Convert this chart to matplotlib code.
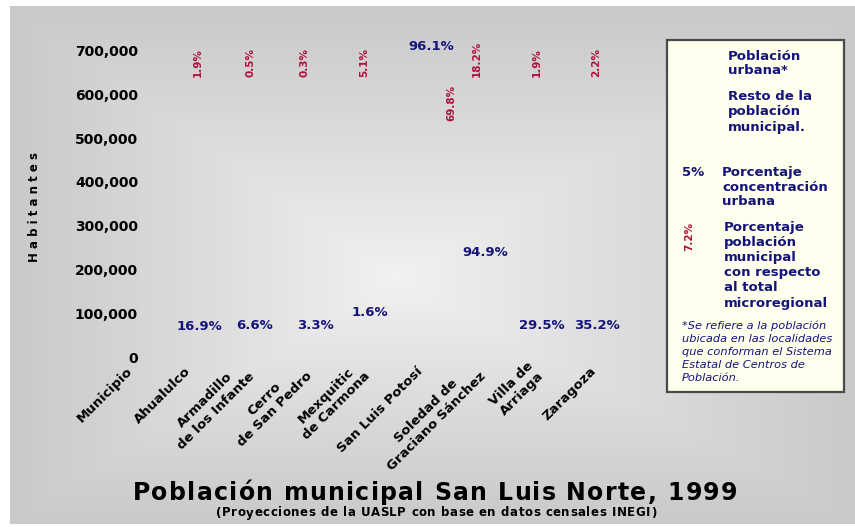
import numpy as np
import matplotlib
matplotlib.use("Agg")
import matplotlib.pyplot as plt
from matplotlib.patches import Rectangle
from matplotlib.ticker import FuncFormatter
from matplotlib.font_manager import FontProperties, findfont
from matplotlib.ft2font import LoadFlags
from matplotlib import font_manager

# --- datos ---
municipios = ["Municipio", "Ahualulco", "Armadillo\nde los Infante", "Cerro\nde San Pedro",
              "Mexquitic\nde Carmona", "San Luis Potosí", "Soledad de\nGraciano Sánchez",
              "Villa de\nArriaga", "Zaragoza"]
# porcentaje de concentración urbana (etiqueta azul) y altura donde aparece (habitantes)
pct_urbana = ["", "16.9%", "6.6%", "3.3%", "1.6%", "96.1%", "94.9%", "29.5%", "35.2%"]
y_urbana = [0, 69500, 74000, 71800, 101400, 707300, 240300, 71800, 71800]
# porcentaje de población municipal respecto al total microregional (etiqueta roja)
pct_municipal = ["", "1.9%", "0.5%", "0.3%", "5.1%", "69.8%", "18.2%", "1.9%", "2.2%"]
y_municipal = [0, 639000, 639000, 639000, 639000, 539400, 639000, 639000, 639000]
yticks = [0, 100000, 200000, 300000, 400000, 500000, 600000, 700000]

# pequeños corrimientos horizontales de las etiquetas (en unidades de categoría)
dx_urbana = [0, 0.19, 0.14, 0.18, 0.13, 0.18, 0.11, 0.10, 0.05]
dx_municipal = [0, 0.16, 0.06, 0.0, 0.02, 0.54, -0.02, 0.01, 0.03]

NAVY = "#14147a"
RED = "#b0103c"
W, H = 855, 527

plt.rcParams["font.family"] = ["DejaVu Sans"]
fig = plt.figure(figsize=(W / 100, H / 100), dpi=100)

# fondo con degradado rectangular desde el centro
bg = fig.add_axes([0, 0, 1, 1], zorder=-1)
bg.axis("off")
x0, x1, y0, y1 = 10, W, 6, 524
cx, cy = 395, 278
X, Y = np.meshgrid(np.linspace(x0, x1, 423), np.linspace(y0, y1, 260))
tx = np.where(X < cx, (cx - X) / (cx - x0), (X - cx) / (x1 - cx))
ty = np.where(Y < cy, (cy - Y) / (cy - y0), (Y - cy) / (y1 - cy))
t = np.clip(np.maximum(tx, ty), 0, 1) ** 0.9
g = 0.95 - (0.95 - 0.79) * t
bg.imshow(np.dstack([g, g, g]), extent=(x0, x1, y1, y0), aspect="auto", interpolation="bilinear")
bg.set_xlim(0, W); bg.set_ylim(H, 0)

# ejes principales (sin barras visibles, sólo etiquetas)
left, right, bottom, top = 125, 640, 357.5, 40
ax = fig.add_axes([left / W, (H - bottom) / H, (right - left) / W, (bottom - top) / H])
ax.patch.set_alpha(0)
unit = 57.9
xmin = -(131 - left) / unit
ax.set_xlim(xmin, xmin + (right - left) / unit)
ax.set_ylim(0, (bottom - top) / 43.9 * 100000)
for s in ax.spines.values():
    s.set_visible(False)

ax.set_yticks(yticks)
ax.yaxis.set_major_formatter(FuncFormatter(lambda v, p: f"{int(v):,}"))
ax.tick_params(axis="y", length=0, pad=-9.4, labelsize=10)
for lb in ax.get_yticklabels():
    lb.set_fontweight("bold")

x = np.arange(len(municipios))
ax.set_xticks(x)
ax.set_xticklabels(municipios, rotation=45, ha="right", va="center",
                   rotation_mode="anchor", fontsize=9.5, fontweight="bold",
                   multialignment="center")
ax.tick_params(axis="x", length=0, pad=8.2)

for i in x[1:]:
    ax.text(i + dx_urbana[i], y_urbana[i], pct_urbana[i], color=NAVY, fontsize=9.5,
            fontweight="bold", ha="center", va="center")
    ax.text(i + dx_municipal[i], y_municipal[i], pct_municipal[i], color=RED, fontsize=7.5,
            fontweight="bold", ha="center", va="bottom", rotation=90)

bg.text(35, 207, "H a b i t a n t e s", rotation=90, fontsize=8.5, fontweight="bold",
        ha="center", va="center")

# cuadro de leyenda
bg.add_patch(Rectangle((667, 40), 177, 352, facecolor="#ffffee", edgecolor="#4a4a4a", lw=1.6))


def lines(xp, yp, step, text, **kw):
    for k, ln in enumerate(text.split("\n")):
        bg.text(xp, yp + k * step, ln, va="center", ha="left", **kw)


kw = dict(color=NAVY, fontsize=9.5, fontweight="bold")
lines(728, 56, 15, "Población\nurbana*", **kw)
lines(728, 97, 15, "Resto de la\npoblación\nmunicipal.", **kw)
bg.text(682, 172.5, "5%", va="center", ha="left", **kw)
lines(722, 172.5, 14.6, "Porcentaje\nconcentración\nurbana", **kw)
bg.text(689, 236, "7.2%", color=RED, fontsize=7.5, fontweight="bold", rotation=90,
        ha="center", va="center")
lines(724, 227, 15.2, "Porcentaje\npoblación\nmunicipal\ncon respecto\nal total\nmicroregional", **kw)
lines(682, 326, 13, "*Se refiere a la población\nubicada en las localidades\nque conforman el Sistema\n"
      "Estatal de Centros de\nPoblación.", color=NAVY, fontsize=8.2, fontstyle="italic")


def tracked(xc, yc, text, size, track, **kw):
    """Texto centrado con espaciado entre letras (track en px)."""
    prop = FontProperties(family="DejaVu Sans", weight="bold", size=size)
    font = font_manager.get_font(findfont(prop))
    font.set_size(size, 100)
    adv = []
    for c in text:
        glyph = font.load_char(ord(c), flags=LoadFlags.NO_HINTING)
        adv.append(glyph.linearHoriAdvance / 65536)
    total = sum(adv) + track * (len(text) - 1)
    xp = xc - total / 2
    for c, a in zip(text, adv):
        bg.text(xp, yc, c, fontproperties=prop, ha="left", va="baseline", **kw)
        xp += a + track


# títulos
tracked(435, 500, "Población municipal San Luis Norte, 1999", 17, 1.3)
tracked(436, 516.5, "(Proyecciones de la UASLP con base en datos censales INEGI)", 8.5, 0.55)

fig.savefig("out.png", dpi=100)
